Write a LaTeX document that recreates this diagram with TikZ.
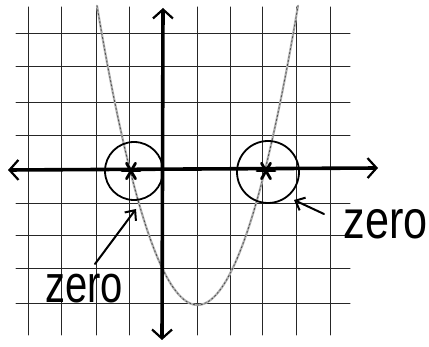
\documentclass[tikz,border=0pt]{standalone}
\usepackage{fontspec}
\setmainfont{Liberation Sans}
\usetikzlibrary{arrows.meta,calc}
\begin{document}
\begin{tikzpicture}[x=1pt,y=-1pt,line join=round,line cap=round]
\tikzstyle{grid line} = [draw,line width=1pt,black!85]
\tikzstyle{axis} = [draw,line width=3.6pt,{Straight Barb[length=9pt,width=20pt,line width=2.2pt]}-{Straight Barb[length=9pt,width=20pt,line width=2.2pt]}]
\tikzstyle{curve} = [draw,line width=2.2pt,gray!60]
\tikzstyle{curve dots} = [draw,line width=0.8pt,black!70,dash pattern=on 1.5pt off 2.5pt]
\tikzstyle{zero ring} = [draw,circle,line width=1.8pt,inner sep=0pt]
\tikzstyle{pointer} = [draw,line width=2pt,-{Straight Barb[length=8pt,width=14pt,line width=2pt]}]
\tikzstyle{zero label} = [font=\fontsize{40}{40}\selectfont,inner sep=0pt]

\useasboundingbox (0,0) rectangle (429,347);

% grid
\foreach \gx in {28,61,96,129,197,230,262,296,330}
  \draw[grid line] (\gx,7) -- (\gx,335);
\foreach \gy in {34,67,103,136,204,236,269,304}
  \draw[grid line] (16,\gy) -- (350,\gy);

% parabola
\draw[curve] plot[domain=97:298,samples=80] (\x,{305-135*((\x-197.5)/67.5)^2});
\draw[curve dots] plot[domain=97:298,samples=80] (\x,{305-135*((\x-197.5)/67.5)^2});

% axes
\coordinate (xl) at (8,170);
\coordinate (xr) at (378,168);
\coordinate (yt) at (163,8);
\coordinate (yb) at (162,340);
\draw[axis] (xl) -- (xr);
\draw[axis] (yb) -- (yt);

% zeros
\coordinate (z1) at (131,171);
\coordinate (z2) at (266,171);
\foreach \z in {z1,z2}
  \foreach \a in {0,60,120}
    \draw[line width=2.8pt] ($(\z)+(\a:9)$) -- ($(\z)+(\a+180:9)$);

\node[zero ring,minimum size=58pt] (lring) at (134,171) {};
\node[zero ring,minimum size=62pt] (rring) at (268,172) {};

% labels
\node[zero label] (lzero) at (84,289) {\scalebox{1}[1.32]{zero}};
\node[zero label] (rzero) at (386,224) {\scalebox{1.08}[1.35]{zero}};

\coordinate (ltail) at (95,264);
\coordinate (lhead) at (136,209);
\coordinate (rtail) at (324,214);
\coordinate (rhead) at (294,200);
\draw[pointer] (ltail) -- (lhead);
\draw[pointer] (rtail) -- (rhead);

\end{tikzpicture}
\end{document}
